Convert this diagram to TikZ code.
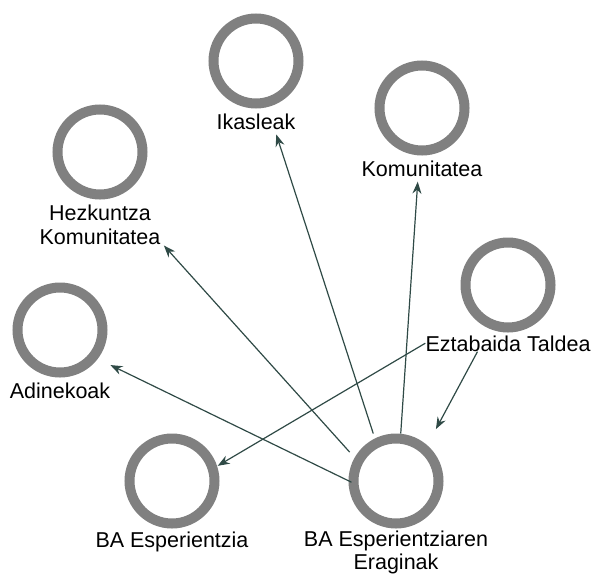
\documentclass[tikz,border=0pt]{standalone}
\usepackage{fontspec}
\setmainfont{Liberation Sans}
\usepackage{tikz}
\usetikzlibrary{arrows.meta, positioning, fit}

\definecolor{ringgray}{HTML}{808080}
\definecolor{linkgreen}{HTML}{2F4A46}

\begin{document}
\begin{tikzpicture}[x=1pt, y=-1pt,
  ring/.style={circle, draw=ringgray, line width=10pt, minimum size=85pt, inner sep=0pt},
  lab/.style={inner sep=0pt, align=center, font=\fontsize{21.5}{23}\selectfont},
  grp/.style={inner sep=0pt, outer sep=0pt},
  link/.style={draw=linkgreen, line width=1.2pt, shorten >=5pt,
    -{Stealth[length=12pt, width=9pt]}}]

\useasboundingbox (0,0) rectangle (594,574);

% Circles
\node[ring] (ik) at (256,61) {};
\node[ring] (kom) at (422,108) {};
\node[ring] (hez) at (100,152) {};
\node[ring] (adi) at (60,330) {};
\node[ring] (ezt) at (508,285) {};
\node[ring] (bae) at (172,481) {};
\node[ring] (baer) at (396,481) {};

% Labels
\node[lab, below=5pt of ik] (ikl) {Ikasleak};
\node[lab, below=5pt of kom] (koml) {Komunitatea};
\node[lab, below=5pt of hez] (hezl) {Hezkuntza\\[1pt]Komunitatea};
\node[lab, below=5pt of adi] (adil) {Adinekoak};
\node[lab, below=3pt of ezt] (eztl) {Eztabaida Taldea};
\node[lab, below=3pt of bae] (bael) {BA Esperientzia};
\node[lab, below=2pt of baer] (baerl) {BA Esperientziaren\\Eraginak};

% Groups (circle + label)
\node[grp, fit=(ik)(ikl)] (ikg) {};
\node[grp, fit=(kom)(koml)] (komg) {};
\node[grp, fit=(hez)(hezl)] (hezg) {};
\node[grp, fit=(adi)(adil)] (adig) {};
\node[grp, fit=(ezt)(eztl)] (eztg) {};
\node[grp, fit=(bae)(bael)] (baeg) {};
\node[grp, fit=(baer)(baerl)] (baerg) {};

% Links
\draw[link] (baerg) -- (ikg);
\draw[link] (baerg) -- (komg);
\draw[link, shorten <=-25pt] (baerg) -- (hezg);
\draw[link, shorten <=-53pt, shorten >=0pt] (baerg) -- (adig);
\draw[link] (eztg) -- (baerg);
\draw[link, shorten >=-36pt] (eztg) -- (baeg);

\end{tikzpicture}
\end{document}
